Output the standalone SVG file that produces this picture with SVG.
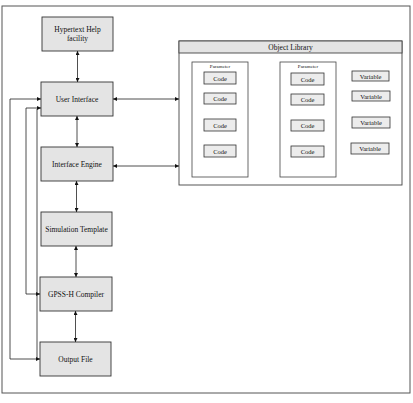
<svg xmlns="http://www.w3.org/2000/svg" width="413" height="403" viewBox="0 0 413 403">
<defs>
<style>
.frame{fill:none;stroke:#555;stroke-width:1}
.node{fill:#e4e4e4;stroke:#333;stroke-width:0.9}
.lib{fill:#fff;stroke:#444;stroke-width:0.9}
.col{fill:#fff;stroke:#444;stroke-width:0.8}
.box{fill:#ececec;stroke:#333;stroke-width:0.8}
.t{font-family:"Liberation Serif","Times New Roman",serif;font-size:7.5px;fill:#111;text-anchor:middle}
.s{font-family:"Liberation Serif","Times New Roman",serif;font-size:6.5px;fill:#111;text-anchor:middle}
.p{font-family:"Liberation Serif","Times New Roman",serif;font-size:5px;fill:#111;text-anchor:middle}
.c{fill:none;stroke:#222;stroke-width:0.8}
</style>
<marker id="ah" viewBox="0 0 10 10" refX="10" refY="5" markerWidth="4" markerHeight="4" orient="auto-start-reverse" markerUnits="userSpaceOnUse">
<path d="M0,0 L10,5 L0,10 z" fill="#111"/>
</marker>
</defs>
<rect class="frame" x="2" y="6" width="408" height="387"/>

<g id="help"><rect class="node" x="42" y="17" width="71" height="34"/><text class="t" x="77.5" y="31.5">Hypertext Help</text><text class="t" x="77.5" y="40.5">facility</text></g>
<g id="ui"><rect class="node" x="41" y="82" width="72" height="34"/><text class="t" x="77" y="101.5">User Interface</text></g>
<g id="ie"><rect class="node" x="41" y="147" width="72" height="34"/><text class="t" x="77" y="166.5">Interface Engine</text></g>
<g id="st"><rect class="node" x="41" y="212" width="71" height="34"/><text class="t" x="76.5" y="231.5">Simulation Template</text></g>
<g id="gc"><rect class="node" x="40" y="277" width="72" height="34"/><text class="t" x="76" y="296.5">GPSS-H Compiler</text></g>
<g id="of"><rect class="node" x="40" y="342" width="71" height="34"/><text class="t" x="75.5" y="361.5">Output File</text></g>

<g id="library">
<rect class="lib" x="179" y="41" width="223" height="144"/>
<rect x="179" y="41" width="223" height="12" fill="#e4e4e4" stroke="#444" stroke-width="0.9"/>
<text class="t" x="290.5" y="50">Object Library</text>
<g id="col1">
<rect class="col" x="192" y="62" width="56" height="115"/>
<text class="p" x="220" y="68">Parameter</text>
<rect class="box" x="204" y="72" width="32" height="12"/><text class="s" x="220" y="80.5">Code</text>
<rect class="box" x="204" y="93" width="32" height="11"/><text class="s" x="220" y="101">Code</text>
<rect class="box" x="204" y="119" width="32" height="12"/><text class="s" x="220" y="127.5">Code</text>
<rect class="box" x="204" y="145" width="32" height="12"/><text class="s" x="220" y="153.5">Code</text>
</g>
<g id="col2">
<rect class="col" x="280" y="62" width="56" height="115"/>
<text class="p" x="308" y="68">Parameter</text>
<rect class="box" x="291" y="73" width="33" height="12"/><text class="s" x="307.5" y="81.5">Code</text>
<rect class="box" x="291" y="94" width="33" height="11"/><text class="s" x="307.5" y="102">Code</text>
<rect class="box" x="291" y="120" width="33" height="11"/><text class="s" x="307.5" y="128">Code</text>
<rect class="box" x="291" y="146" width="33" height="11"/><text class="s" x="307.5" y="154">Code</text>
</g>
<g id="vars">
<rect class="box" x="352" y="71" width="37" height="10"/><text class="s" x="370.5" y="78.5">Variable</text>
<rect class="box" x="352" y="91" width="38" height="10"/><text class="s" x="371" y="98.5">Variable</text>
<rect class="box" x="352" y="117" width="38" height="11"/><text class="s" x="371" y="125">Variable</text>
<rect class="box" x="351" y="143" width="38" height="11"/><text class="s" x="370" y="151">Variable</text>
</g>
</g>

<g id="connectors">
<line class="c" x1="77.5" y1="51" x2="77.5" y2="82" marker-start="url(#ah)" marker-end="url(#ah)"/>
<line class="c" x1="77" y1="116" x2="77" y2="147" marker-start="url(#ah)" marker-end="url(#ah)"/>
<line class="c" x1="76.5" y1="181" x2="76.5" y2="212" marker-start="url(#ah)" marker-end="url(#ah)"/>
<line class="c" x1="76" y1="246" x2="76" y2="277" marker-start="url(#ah)" marker-end="url(#ah)"/>
<line class="c" x1="75.5" y1="311" x2="75.5" y2="342" marker-start="url(#ah)" marker-end="url(#ah)"/>
<line class="c" x1="113" y1="99" x2="179" y2="99" marker-start="url(#ah)" marker-end="url(#ah)"/>
<line class="c" x1="113" y1="166" x2="179" y2="166" marker-start="url(#ah)" marker-end="url(#ah)"/>
<polyline class="c" points="41,99 10,99 10,359 40,359" marker-start="url(#ah)" marker-end="url(#ah)"/>
<polyline class="c" points="41,108 26,108 26,294 40,294" marker-start="url(#ah)" marker-end="url(#ah)"/>
<line class="c" x1="37" y1="109" x2="37" y2="359"/>
</g>
</svg>
